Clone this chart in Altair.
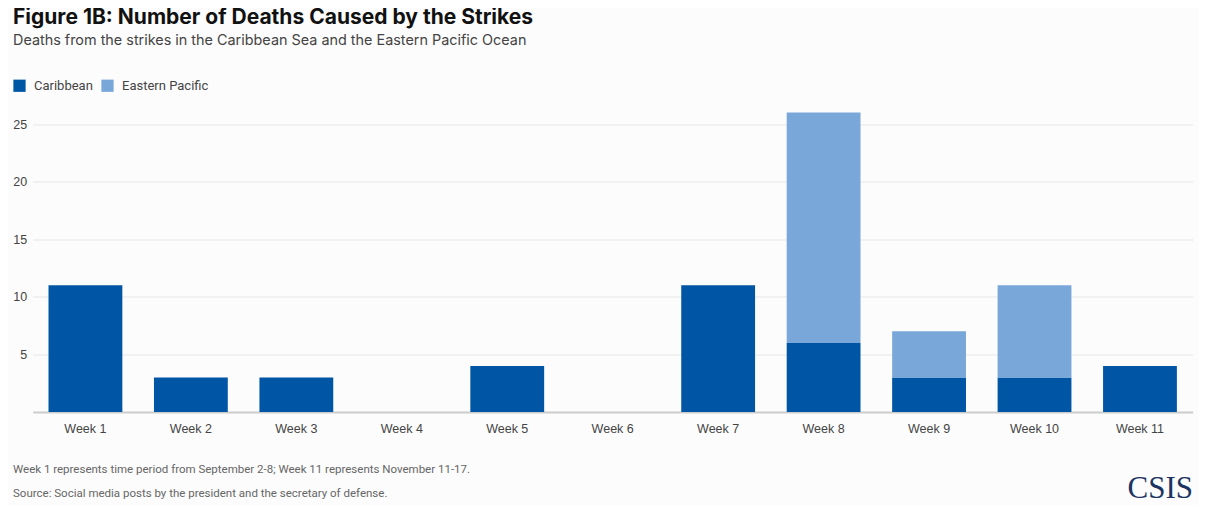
import altair as alt
import pandas as pd

weeks = ["Week 1", "Week 2", "Week 3", "Week 4", "Week 5", "Week 6",
         "Week 7", "Week 8", "Week 9", "Week 10", "Week 11"]
caribbean = [11, 3, 3, 0, 4, 0, 11, 6, 3, 3, 4]
eastern_pacific = [0, 0, 0, 0, 0, 0, 0, 20, 4, 8, 0]
series = ["Caribbean", "Eastern Pacific"]
colors = ["#0055a5", "#7aa7d9"]
y_ticks = [5, 10, 15, 20, 25]

rows = []
for w, c, p in zip(weeks, caribbean, eastern_pacific):
    rows.append({"week": w, "region": series[0], "deaths": c, "ord": 0})
    rows.append({"week": w, "region": series[1], "deaths": p, "ord": 1})
df = pd.DataFrame(rows)

W, H = 1160, 299.5
LEFT, TOP = 32.7, 112.5

bars = alt.Chart(df).mark_bar().encode(
    x=alt.X("week:N", sort=weeks,
            scale=alt.Scale(paddingInner=0.3, paddingOuter=0.15),
            axis=alt.Axis(title=None, labelAngle=0, ticks=False,
                          domain=True, domainColor="#cccccc", domainWidth=2,
                          labelFont="Liberation Sans", labelFontSize=12.5,
                          labelColor="#444444", labelPadding=10, grid=False)),
    y=alt.Y("deaths:Q", stack="zero",
            scale=alt.Scale(domain=[0, 26], nice=False),
            axis=alt.Axis(title=None, values=y_ticks, grid=True,
                          gridColor="#e6e6e6", domain=False, ticks=False,
                          labelFont="Liberation Sans", labelFontSize=12.5,
                          labelColor="#444444", labelPadding=6)),
    color=alt.Color("region:N", sort=series,
                    scale=alt.Scale(domain=series, range=colors),
                    legend=alt.Legend(title=None, orient="none",
                                      legendX=13 - LEFT, legendY=79 - TOP,
                                      direction="horizontal",
                                      symbolType="square", symbolSize=150,
                                      symbolStrokeWidth=0, symbolOpacity=1,
                                      labelFont="Roboto", labelFontSize=13,
                                      labelColor="#444444", labelOffset=8,
                                      columnPadding=8)),
    order=alt.Order("ord:Q", sort="ascending"),
)

def txt(s, x, y, size, color, font="Roboto", weight="normal", align="left"):
    return alt.Chart(pd.DataFrame({"t": [s]})).mark_text(
        align=align, baseline="alphabetic", font=font, fontSize=size,
        fontWeight=weight, color=color
    ).encode(text="t:N", x=alt.value(x - LEFT), y=alt.value(y - TOP))

title = txt("Figure 1B: Number of Deaths Caused by the Strikes", 13, 24, 21, "#111111", font="Inter", weight="bold")
subtitle = txt("Deaths from the strikes in the Caribbean Sea and the Eastern Pacific Ocean", 13, 45, 14.4, "#444444", font="Inter")
note = txt("Week 1 represents time period from September 2-8; Week 11 represents November 11-17.", 13, 473, 11.5, "#666666")
source = txt("Source: Social media posts by the president and the secretary of defense.", 13, 497, 11.5, "#666666")
logo = txt("CSIS", 1193, 498, 31, "#1c3461", font="Liberation Serif", align="right")

chart = alt.layer(bars, title, subtitle, note, source, logo).properties(
    width=W, height=H,
    autosize=alt.AutoSizeParams(type="none"),
    padding={"left": LEFT - 8, "top": TOP - 8, "right": 1191 - (LEFT - 8) - W, "bottom": 497 - (TOP - 8) - H},
    background="#fcfcfc",
).configure_view(stroke=None)

chart.save("out.html", embed_options={"renderer": "svg", "actions": False})
